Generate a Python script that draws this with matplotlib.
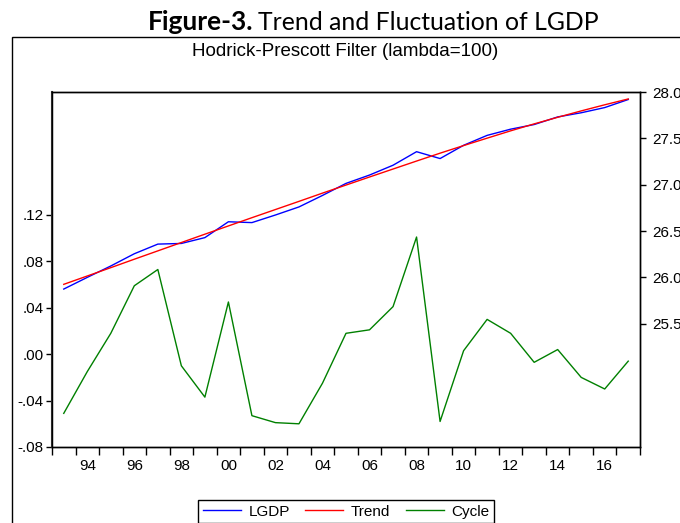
import matplotlib.pyplot as plt
from matplotlib.patches import Rectangle
from matplotlib.ticker import FuncFormatter

# annual data 1993-2017
years = list(range(1993, 2018))
lgdp = [25.874, 26.000, 26.123, 26.255, 26.359, 26.366, 26.429, 26.600, 26.591,
        26.673, 26.760, 26.884, 27.014, 27.104, 27.210, 27.356, 27.282, 27.425,
        27.532, 27.599, 27.649, 27.731, 27.776, 27.832, 27.919]
trend = [25.925, 26.015, 26.105, 26.196, 26.286, 26.376, 26.466, 26.555, 26.644,
         26.732, 26.820, 26.909, 26.996, 27.083, 27.169, 27.255, 27.340, 27.422,
         27.502, 27.581, 27.656, 27.727, 27.796, 27.862, 27.925]
cycle = [-0.051, -0.015, 0.018, 0.059, 0.073, -0.010, -0.037, 0.045, -0.053,
         -0.059, -0.060, -0.025, 0.018, 0.021, 0.041, 0.101, -0.058, 0.003,
         0.030, 0.018, -0.007, 0.004, -0.020, -0.030, -0.006]

plt.rcParams['font.family'] = ['Liberation Sans', 'DejaVu Sans']

fig = plt.figure(figsize=(6.8, 5.23), dpi=100)
ax = fig.add_axes([52/680, 1-447/523, 588/680, 355/523])
ax2 = ax.twinx()

x = list(range(len(years)))
ax.plot(x, cycle, color='#008000', lw=1.0, label='Cycle')
ax2.plot(x, lgdp, color='#0000ff', lw=1.0, label='LGDP')
ax2.plot(x, trend, color='#ff0000', lw=1.0, label='Trend')

ax.set_xlim(-0.5, len(years) - 0.5)
ax.set_ylim(-0.08, 0.226)
ax2.set_ylim(24.17, 28.0)

# x axis: ticks between years, labels on even years
ax.set_xticks([i for i in x if years[i] % 2 == 0])
ax.set_xticklabels(["%02d" % (years[i] % 100) for i in x if years[i] % 2 == 0])
ax.set_xticks([i - 0.5 for i in range(len(years) + 1)], minor=True)
ax.tick_params(axis='x', which='major', length=0, pad=9, labelsize=11)
ax.tick_params(axis='x', which='minor', length=6, width=1, direction='out')

ax.set_yticks([-0.08, -0.04, 0.0, 0.04, 0.08, 0.12])
ax.yaxis.set_major_formatter(FuncFormatter(
    lambda v, p: ("%.2f" % v).replace("0.", ".")))
ax.tick_params(axis='y', length=4, width=1, labelsize=11, pad=2)

ax2.set_yticks([25.5, 26.0, 26.5, 27.0, 27.5, 28.0])
ax2.yaxis.set_major_formatter(FuncFormatter(lambda v, p: "%.1f" % v))
ax2.tick_params(axis='y', length=4, width=1, labelsize=11, pad=5)

for a in (ax, ax2):
    for s in a.spines.values():
        s.set_color('black')
        s.set_linewidth(1.0)
ax.spines['left'].set_linewidth(1.5)
ax.spines['left'].set_color('#333333')

# outer frame
fig.patches.append(Rectangle((12/680, -0.2), 1.0, 1.2 - 37/523,
                             transform=fig.transFigure, fill=False,
                             edgecolor='black', lw=1.0))

# title: bold part + normal part
ty = 1 - 30/523
t1 = fig.text(148/680, ty, "Figure-3.", fontsize=19, fontweight='bold',
              family=['Lato', 'DejaVu Sans'], ha='left', va='baseline')
fig.canvas.draw()
bb = t1.get_window_extent()
fig.text(bb.x1/fig.bbox.width + 5/680, ty, "Trend and Fluctuation of LGDP",
         fontsize=17.8, family=['Lato', 'DejaVu Sans'], ha='left', va='baseline')

fig.text(345/680, 1 - 51/523, "Hodrick-Prescott Filter (lambda=100)",
         fontsize=13.5, ha='center', va='center')

handles = ax2.get_lines() + ax.get_lines()
fig.legend(handles, ['LGDP', 'Trend', 'Cycle'], loc='upper center',
           bbox_to_anchor=(346/680, 1 - 500/523), ncol=3, fontsize=11,
           frameon=True, fancybox=False, edgecolor='black', framealpha=1,
           handlelength=2.5, handletextpad=0.5, columnspacing=1.0,
           borderpad=0.3, borderaxespad=0)

fig.savefig("out.png", dpi=100)
